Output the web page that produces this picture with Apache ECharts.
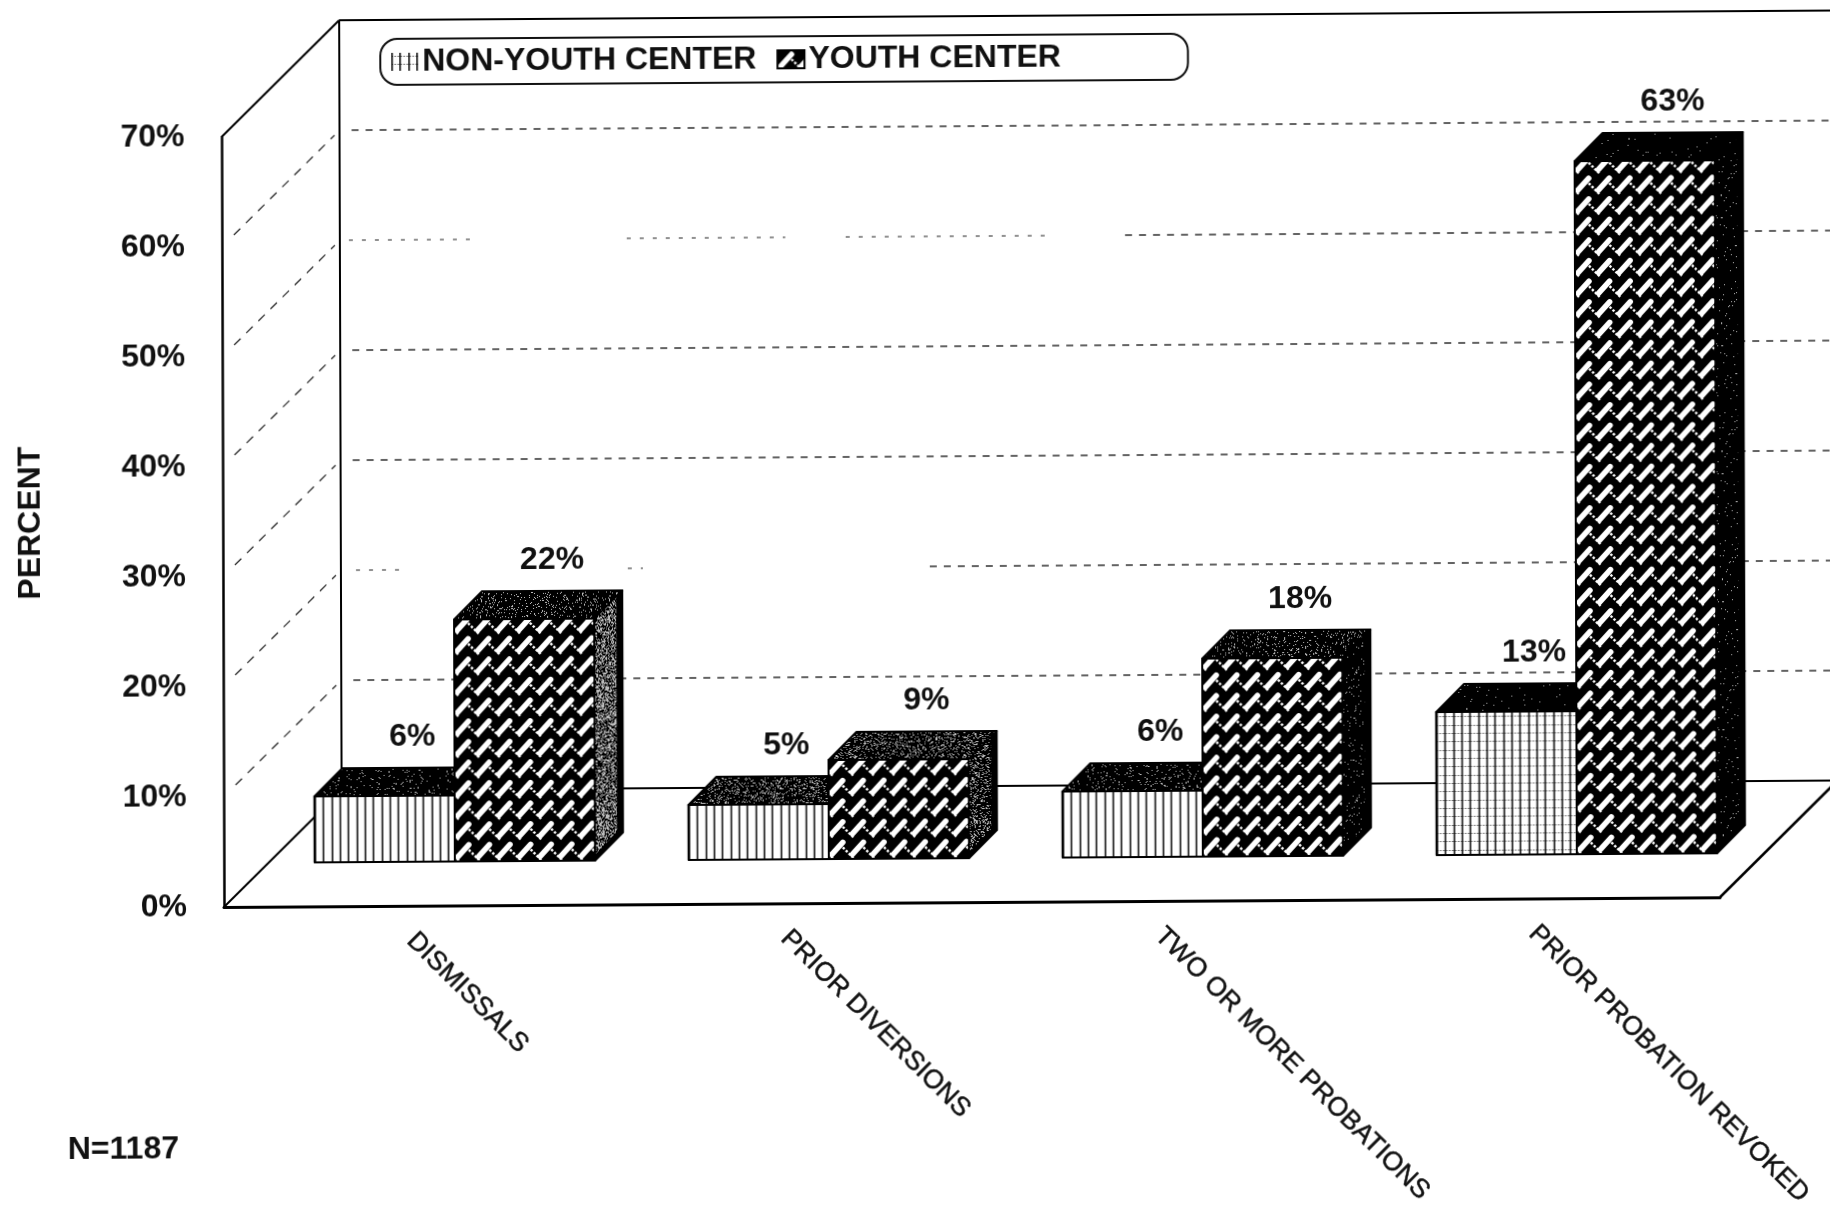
<!DOCTYPE html>
<html>
<head>
<meta charset="utf-8">
<title>Prior record by youth center placement</title>
<script src="https://cdn.jsdelivr.net/npm/echarts@6/dist/echarts.min.js"></script>
<style>
  html, body { margin: 0; padding: 0; background: #fff; overflow: hidden; width: 1830px; height: 1213px; }
  /* The whole sheet sits very slightly askew, pivoting on the axis corner. */
  #chart { width: 1860px; height: 1240px; transform-origin: 224px 907px; transform: matrix(1, -0.0065, 0.0032, 1, 0, 0); }
</style>
</head>
<body>
<div id="chart"></div>
<script>
// Chart values
const categories = ['DISMISSALS', 'PRIOR DIVERSIONS', 'TWO OR MORE PROBATIONS', 'PRIOR PROBATION REVOKED'];
const nonYouthCenter = [6, 5, 6, 13];
const youthCenter = [22, 9, 18, 63];
const percentTicks = [0, 10, 20, 30, 40, 50, 60, 70];
const seriesNames = ['NON-YOUTH CENTER', 'YOUTH CENTER'];
const sampleSize = 'N=1187';

// Depth projection, in pixels
const WALL_DEPTH_X = 118;
const WALL_DEPTH_Y = 116;
const BAR_INSET = 44;
const BAR_DEPTH = 28;
const BAR_BAND_SHARE = 0.375;
const WALL_RUN = 1510;

// Ink density of the shaded faces, per category
const topSpeckle = [[5, 9], [18, 20], [7, 9], [1, 1]];
const sideSpeckle = [46, 22, 3, 2];
const nonYouthCrossRuled = [false, false, false, true];

// The 50% and 20% rules on the back wall are only inked in stretches (share of wall run).
const partialRules = {
  50: [[0.006, 0.09], [0.19, 0.295], [0.335, 0.47], [0.52, 1]],
  20: [[0.01, 0.04], [0.19, 0.2], [0.39, 1]]
};

const FONT = '"Liberation Sans", Arial, sans-serif';

function makeTile(w, h, draw) {
  const c = document.createElement('canvas');
  c.width = w; c.height = h;
  draw(c.getContext('2d'));
  return c;
}

// Black ground, white "/" dashes joined by dotted "\" links; five repeats per tile.
const weaveTile = makeTile(103, 103, ctx => {
  ctx.fillStyle = '#000';
  ctx.fillRect(0, 0, 103, 103);
  const step = 20.6;
  for (let i = -1; i < 6; i++) {
    for (let j = -1; j < 6; j++) {
      const ox = i * step, oy = j * step;
      ctx.strokeStyle = '#fff';
      ctx.lineCap = 'round';
      ctx.lineWidth = 5.5;
      ctx.beginPath();
      ctx.moveTo(ox + 3, oy + 16);
      ctx.lineTo(ox + 14, oy + 4);
      ctx.stroke();
      ctx.lineCap = 'butt';
      ctx.lineWidth = 2.4;
      ctx.setLineDash([2.4, 1.8]);
      ctx.beginPath();
      ctx.moveTo(ox + 14, oy + 9);
      ctx.lineTo(ox + 25, oy + 20);
      ctx.stroke();
      ctx.setLineDash([]);
    }
  }
});

function ruledTile(withCross) {
  return makeTile(25, 25, ctx => {
    ctx.fillStyle = '#fff';
    ctx.fillRect(0, 0, 25, 25);
    ctx.fillStyle = '#111';
    for (let i = 0; i < 3; i++) ctx.fillRect(Math.round(i * 25 / 3), 0, 1.6, 25);
    if (withCross) {
      ctx.fillStyle = 'rgba(0,0,0,0.5)';
      for (let j = 0; j < 3; j++) {
        for (let x = 0; x < 25; x += 3) ctx.fillRect(x, Math.round(j * 25 / 3) + 3, 2, 1);
      }
    }
  });
}
const plainRuleTile = ruledTile(false);
const crossRuleTile = ruledTile(true);

// Dark face with a fixed scatter of grey grains; density is a percentage of the pixels.
function speckleTile(density) {
  const size = 128;
  return makeTile(size, size, ctx => {
    ctx.fillStyle = '#000';
    ctx.fillRect(0, 0, size, size);
    ctx.fillStyle = '#bbb';
    let state = 12345;
    for (let y = 0; y < size; y++) {
      for (let x = 0; x < size; x++) {
        state = (state * 1103515245 + 12345) & 0x7fffffff;
        if (((state >> 16) % 100) < density) ctx.fillRect(x, y, 1, 1);
      }
    }
  });
}
const speckleCache = {};
function speckleFill(density) {
  if (!speckleCache[density]) speckleCache[density] = speckleTile(density);
  return { image: speckleCache[density], repeat: 'repeat' };
}

function polygon(points, fill, lineWidth) {
  return {
    type: 'polygon',
    shape: { points },
    style: { fill, stroke: lineWidth === 0 ? null : '#000', lineWidth: lineWidth === undefined ? 2 : lineWidth, lineJoin: 'round' }
  };
}

function barRenderer(seriesIndex) {
  return function (params, api) {
    const cat = api.value(0);
    const val = api.value(1);
    const base = api.coord([cat, 0]);
    const peak = api.coord([cat, val]);
    const width = api.size([1, 0])[0] * BAR_BAND_SHARE;
    const left = base[0] + BAR_INSET - (seriesIndex === 0 ? width : 0);
    const right = left + width;
    const bottom = base[1] - BAR_INSET;
    const top = peak[1] - BAR_INSET;
    const d = BAR_DEPTH;
    const faceImage = seriesIndex === 1 ? weaveTile : (nonYouthCrossRuled[cat] ? crossRuleTile : plainRuleTile);
    const children = [
      // side face: black shell with a shaded panel inside it
      polygon([[right, top], [right + d, top - d], [right + d, bottom - d], [right, bottom]], '#000'),
      polygon([[right, top - 2], [right + d - 6, top - d + 3], [right + d - 6, bottom - d - 1], [right, bottom - 6]],
        speckleFill(sideSpeckle[cat]), 0),
      polygon([[left, top], [left + d, top - d], [right + d, top - d], [right, top]],
        speckleFill(topSpeckle[cat][seriesIndex])),
      polygon([[left, top], [right, top], [right, bottom], [left, bottom]],
        { image: faceImage, repeat: 'repeat', x: left, y: bottom }),
      {
        type: 'text',
        style: {
          text: val + '%',
          x: (left + right) / 2 + d,
          y: top - d - 31,
          align: 'center',
          verticalAlign: 'middle',
          font: 'bold 32px ' + FONT,
          fill: '#111'
        }
      }
    ];
    return { type: 'group', children };
  };
}

// Back wall, side wall and floor outline, plus the dashed percent rules on the walls.
function wallRenderer(params, api) {
  const tick = api.value(0);
  const p = api.coord([0, tick]);
  const x0 = params.coordSys.x;
  const x1 = x0 + params.coordSys.width;
  const y = p[1];
  const bx = x0 + WALL_DEPTH_X;
  const by = y - WALL_DEPTH_Y;
  const children = [];
  const solid = (a, b, w) => ({
    type: 'line',
    shape: { x1: a[0], y1: a[1], x2: b[0], y2: b[1] },
    style: { stroke: '#000', lineWidth: w }
  });
  const dashed = (a, b, w, dash) => ({
    type: 'line',
    shape: { x1: a[0], y1: a[1], x2: b[0], y2: b[1] },
    style: { stroke: '#222', lineWidth: w, lineDash: dash }
  });
  if (tick === 0) {
    children.push(solid([x0, y], [bx, by], 2));
    children.push(solid([bx, by], [bx + WALL_RUN, by], 2));
    children.push(solid([x1, y], [x1 + WALL_DEPTH_X, by], 2.5));
    children.push(solid([bx, by], [bx, by - 70 * (api.coord([0, 0])[1] - api.coord([0, 1])[1])], 2));
  } else if (tick === percentTicks[percentTicks.length - 1]) {
    children.push(solid([x0, y], [bx, by], 2));
    children.push(solid([bx, by], [bx + WALL_RUN, by], 2));
  } else {
    children.push(dashed([x0 + 12, y - 12], [bx - 5, by + 5], 1.2, [9, 8]));
    const runs = partialRules[tick] || [[0.008, 1]];
    runs.forEach(r => {
      const fragment = r[1] - r[0] < 0.2;
      children.push(dashed([bx + r[0] * WALL_RUN, by], [bx + r[1] * WALL_RUN, by],
        fragment ? 1.1 : 1.4, fragment ? [4, 9] : [7, 7]));
    });
  }
  return { type: 'group', children };
}

const chart = echarts.init(document.getElementById('chart'), null, { renderer: 'canvas' });

chart.setOption({
  animation: false,
  backgroundColor: '#fff',
  tooltip: { show: false },
  title: {
    text: sampleSize,
    left: 67,
    top: 1133,
    padding: 0,
    textStyle: { fontFamily: FONT, fontWeight: 'bold', fontSize: 32, color: '#111' }
  },
  legend: {
    left: 383,
    top: 40,
    orient: 'horizontal',
    padding: [7, 127, 7, 11],
    itemWidth: 27,
    itemHeight: 18,
    itemGap: 20,
    borderColor: '#111',
    borderWidth: 2,
    borderRadius: 17,
    backgroundColor: '#fff',
    selectedMode: false,
    textStyle: { fontFamily: FONT, fontWeight: 'bold', fontSize: 32, color: '#111', padding: [0, 0, 0, -1] },
    data: [
      { name: seriesNames[0], icon: 'rect', itemStyle: { color: { image: crossRuleTile, repeat: 'repeat' }, borderWidth: 0 } },
      { name: seriesNames[1], icon: 'rect', itemStyle: { color: { image: weaveTile, repeat: 'repeat' }, borderColor: '#000', borderWidth: 2 } }
    ]
  },
  grid: { left: 224, top: 137, width: 1496, height: 770, containLabel: false, outerBoundsMode: 'none' },
  xAxis: {
    type: 'category',
    data: categories,
    boundaryGap: true,
    axisLine: { show: true, lineStyle: { color: '#000', width: 3 } },
    axisTick: { show: false },
    axisLabel: {
      interval: 0,
      rotate: -45,
      margin: 31,
      fontFamily: FONT,
      fontSize: 26.5,
      color: '#111',
      textBorderColor: '#111',
      textBorderWidth: 0.5
    }
  },
  yAxis: {
    type: 'value',
    min: percentTicks[0],
    max: percentTicks[percentTicks.length - 1],
    interval: 10,
    name: 'PERCENT',
    nameLocation: 'middle',
    nameGap: 176,
    nameRotate: 90,
    nameTextStyle: { fontFamily: FONT, fontWeight: 'bold', fontSize: 32, color: '#111' },
    axisLine: { show: true, onZero: false, lineStyle: { color: '#000', width: 2.5 } },
    axisTick: { show: false },
    splitLine: { show: false },
    axisLabel: {
      margin: 37,
      formatter: '{value}%',
      fontFamily: FONT,
      fontWeight: 'bold',
      fontSize: 32,
      color: '#111'
    }
  },
  series: [
    {
      name: 'walls',
      type: 'custom',
      coordinateSystem: 'cartesian2d',
      silent: true,
      z: 1,
      clip: false,
      encode: { y: 0 },
      renderItem: wallRenderer,
      data: percentTicks.map(t => [t])
    },
    {
      name: seriesNames[0],
      type: 'custom',
      coordinateSystem: 'cartesian2d',
      silent: true,
      z: 3,
      clip: false,
      itemStyle: { color: '#fff' },
      encode: { x: 0, y: 1 },
      renderItem: barRenderer(0),
      data: nonYouthCenter.map((v, i) => [i, v])
    },
    {
      name: seriesNames[1],
      type: 'custom',
      coordinateSystem: 'cartesian2d',
      silent: true,
      z: 4,
      clip: false,
      itemStyle: { color: '#000' },
      encode: { x: 0, y: 1 },
      renderItem: barRenderer(1),
      data: youthCenter.map((v, i) => [i, v])
    }
  ]
});
</script>
</body>
</html>
